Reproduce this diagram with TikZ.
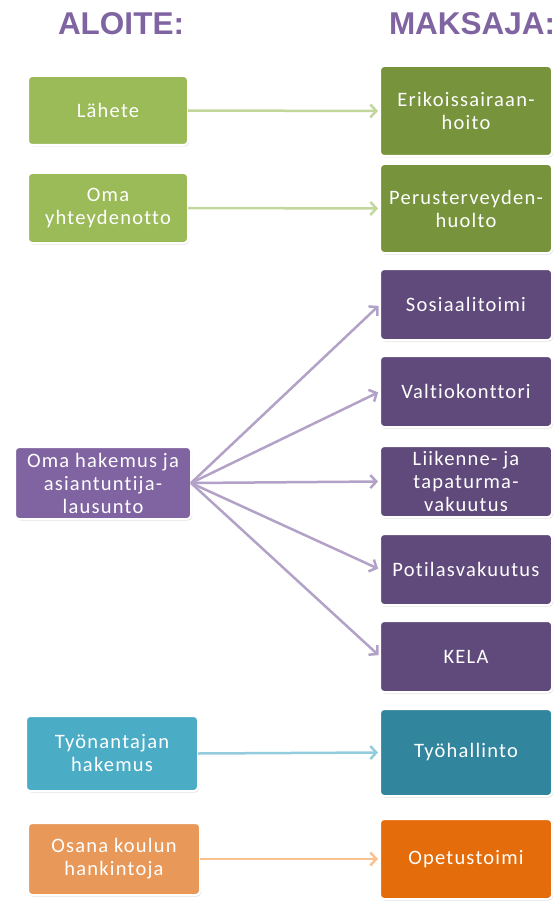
\documentclass[tikz,border=0pt]{standalone}
\usepackage{fontspec}
\setmainfont{Carlito}[LetterSpace=6.0, Ligatures={NoCommon}]
\newfontfamily\titlefont{Liberation Sans}
\usetikzlibrary{positioning}
\usetikzlibrary{arrows.meta,shadows}
\definecolor{titlepurple}{HTML}{8064A2}
\definecolor{greenleft}{HTML}{9BBB59}
\definecolor{greenright}{HTML}{77933C}
\definecolor{greenarrow}{HTML}{C3D69B}
\definecolor{purpleleft}{HTML}{8064A2}
\definecolor{purpleright}{HTML}{604A7B}
\definecolor{purplearrow}{HTML}{B3A2C7}
\definecolor{blueleft}{HTML}{4BACC6}
\definecolor{blueright}{HTML}{31859C}
\definecolor{bluearrow}{HTML}{93CDDD}
\definecolor{orangeleft}{HTML}{E8995A}
\definecolor{orangeright}{HTML}{E46C0A}
\definecolor{orangearrow}{HTML}{FAC090}
\newcommand{\payerwidth}{172pt}
\newcommand{\payerheight}{71pt}

\begin{document}
\begin{tikzpicture}[x=1pt, y=-1pt, outer sep=0pt]
\tikzstyle{box}=[
    rectangle,
    rounded corners=4pt,
    draw=white,
    line width=2pt,
    text=white,
    align=center,
    font=\fontsize{20.5}{23}\selectfont,
    drop shadow={opacity=0.25, shadow xshift=1pt, shadow yshift=-1.5pt},
    anchor=north west]
\tikzstyle{payer}=[
    box,
    minimum width=\payerwidth,
    minimum height=\payerheight]
\tikzstyle{link}=[
    line width=2.5pt,
    shorten >=2pt,
    -{Straight Barb[length=6pt,width=13pt,line width=2.5pt]}]
\tikzstyle{title}=[
    text=titlepurple,
    font=\titlefont\bfseries\fontsize{31.5}{36}\selectfont,
    anchor=base west,
    inner sep=0pt]
\useasboundingbox (0,0) rectangle (556,904);

% titles
\node[title] (aloite) at(58,35) {ALOITE:};
\node[title] (maksaja) at(389,35) {MAKSAJA:};

% initiators
\node[box, fill=greenleft, minimum width=160pt, minimum height=69pt] (lahete) at(28,76) {Lähete};
\node[box, fill=greenleft, minimum width=160pt, minimum height=70pt] (oma) at(28,173) {Oma\\yhteydenotto};
\node[box, fill=purpleleft, minimum width=176pt, minimum height=72pt] (hakemus) at(15,447) {Oma hakemus ja\\asiantuntija-\\lausunto};
\node[box, fill=blueleft, minimum width=172pt, minimum height=75pt] (tyonantaja) at(26,716) {Työnantajan\\hakemus};
\node[box, fill=orangeleft, minimum width=172pt, minimum height=72pt] (koulu) at(28,823) {Osana koulun\\hankintoja};

% payers
\node[payer, fill=greenright, minimum height=90pt] (erikois) at(380,66) {Erikoissairaan-\\hoito};
\node[payer, fill=greenright, minimum height=89pt] (perus) at(380,164) {Perusterveyden-\\huolto};
\node[payer, fill=purpleright] (sosiaali) at(380,269) {Sosiaalitoimi};
\node[payer, fill=purpleright] (valtio) at(380,356) {Valtiokonttori};
\node[payer, fill=purpleright] (liikenne) at(380,446) {Liikenne- ja\\tapaturma-\\vakuutus};
\node[payer, fill=purpleright] (potilas) at(380,534) {Potilasvakuutus};
\node[payer, fill=purpleright] (kela) at(380,621) {KELA};
\node[payer, fill=blueright, minimum height=87pt] (tyohallinto) at(380,709) {Työhallinto};
\node[payer, fill=orangeright, minimum height=80pt] (opetus) at(380,819) {Opetustoimi};

% arrows
\draw[link, greenarrow] (lahete.east) -- (erikois.west);
\draw[link, greenarrow] (oma.east) -- (perus.west);
\foreach \target in {sosiaali,valtio,liikenne,potilas,kela}
    \draw[link, purplearrow] (hakemus.east) -- (\target.west);
\draw[link, bluearrow] (tyonantaja.east) -- (tyohallinto.west);
\draw[link, orangearrow] (koulu.east) -- (opetus.west);

\end{tikzpicture}
\end{document}
